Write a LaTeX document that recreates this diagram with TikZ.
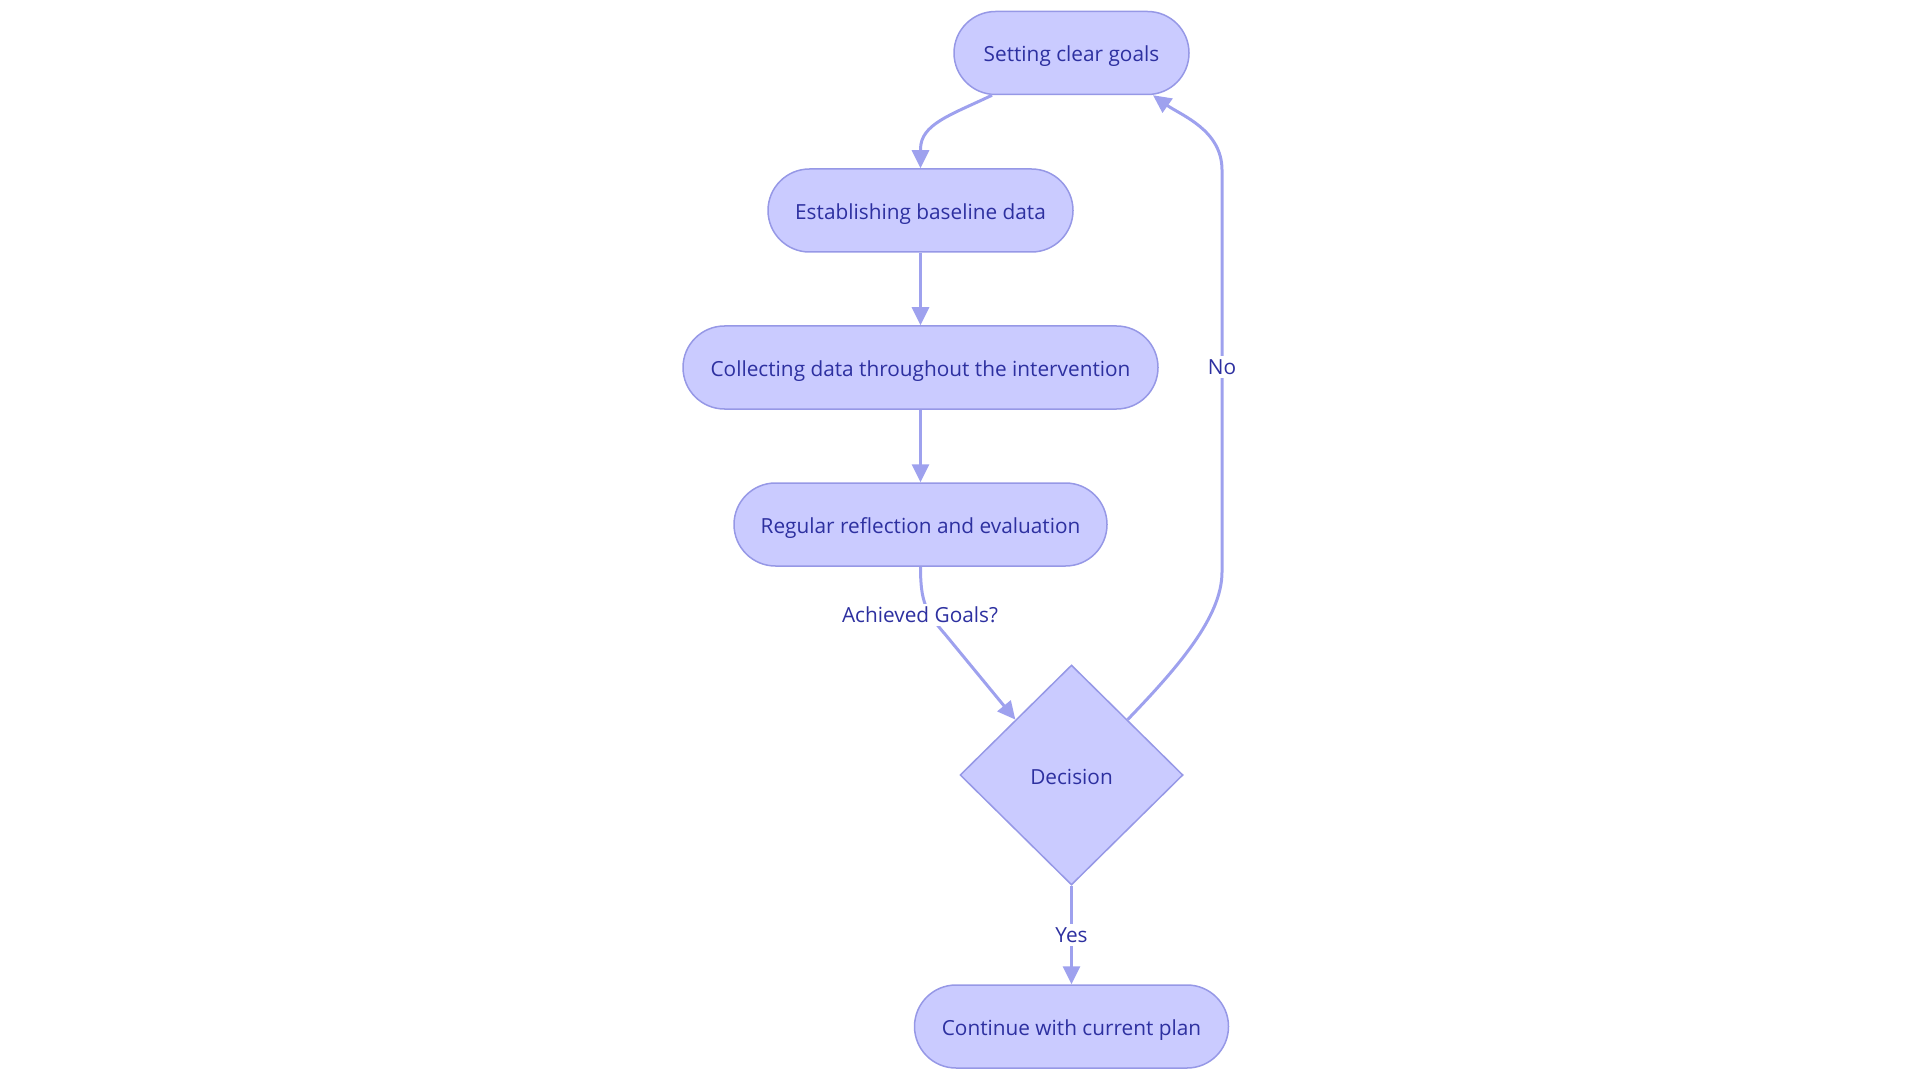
\documentclass[tikz,border=0pt]{standalone}
\usepackage{fontspec}
\setmainfont{Open Sans}
\usetikzlibrary{shapes.geometric,arrows.meta,calc}
\definecolor{nodefill}{RGB}{202,203,255}
\definecolor{nodeline}{RGB}{150,152,230}
\definecolor{edgecol}{RGB}{158,161,238}
\definecolor{txt}{RGB}{45,48,160}
\tikzset{
  basefont/.style={font=\fontsize{10.4}{12.5}\selectfont},
  stadium/.style={draw=nodeline, fill=nodefill, line width=0.75pt, rounded corners=20.75pt,
    minimum height=41.5pt, inner sep=0pt, text=txt, basefont, text height=9.6pt, text depth=0.6pt},
  decbox/.style={diamond, draw=nodeline, fill=nodefill, line width=0.75pt, aspect=1,
    minimum width=111.5pt, minimum height=110pt, inner sep=0pt, text=txt, basefont,
    text height=9.6pt, text depth=0.6pt},
  arr/.style={draw=edgecol, line width=1.5pt, -{Triangle[length=9pt,width=8.5pt]}},
  elabel/.style={fill=white, text=txt, inner sep=1.5pt, basefont}
}
\begin{document}
\begin{tikzpicture}[x=0.5pt,y=-0.5pt]
\useasboundingbox (0,0) rectangle (1920,1080);
\node[stadium, minimum width=117.5pt] (goals) at (1071.5,53) {Setting clear goals};
\node[stadium, minimum width=152.5pt] (base) at (920.5,210.5) {Establishing baseline data};
\node[stadium, minimum width=237.5pt] (coll) at (920.5,367.5) {Collecting data throughout the intervention};
\node[stadium, minimum width=186.5pt] (refl) at (920.5,524.5) {Regular reflection and evaluation};
\node[decbox] (dec) at (1071.5,775) {Decision};
\node[stadium, minimum width=157pt] (cont) at (1071.5,1026.5) {Continue with current plan};

\coordinate (k1) at ([yshift=9.5pt]base.north);
\draw[arr] ([xshift=-39.75pt]goals.south) .. controls +(-42,20) and +(0,-25) .. (k1) -- (base.north);
\draw[arr] (base.south) -- (coll.north);
\draw[arr] (coll.south) -- (refl.north);

\coordinate (dl) at ($(dec.west)!0.5!(dec.north)$);
\coordinate (dr) at ($(dec.north)!0.5!(dec.east)$);
\coordinate (m1) at ($(refl.south)+(25,68)$);
\draw[arr] (refl.south) .. controls +(0,35) and +(-20,-23) .. (m1) -- (dl);
\node[elabel] (lab1) at (920,615) {Achieved Goals?};

\coordinate (r1) at (1222,572);
\coordinate (r2) at (1222,170);
\draw[arr] (dr) .. controls +(50,-52) and +(0,45) .. (r1) -- (r2) .. controls +(0,-40) and +(28,20) .. ([xshift=40.75pt]goals.south);
\node[elabel] (lab2) at (1222,367) {No};

\draw[arr] (dec.south) -- node[elabel] (lab3) {Yes} (cont.north);
\end{tikzpicture}
\end{document}
